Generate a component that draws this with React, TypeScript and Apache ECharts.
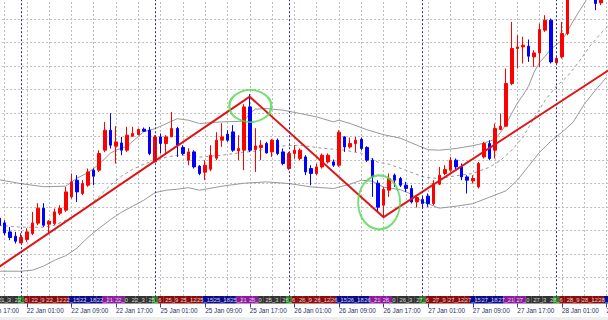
import React, { useEffect, useRef } from 'react';
import * as echarts from 'echarts';

// ---- time axis (H1 bars, server time) ----
const dayNames = ['21 Jan', '22 Jan', '25 Jan', '26 Jan', '27 Jan', '28 Jan'];
const firstHours = [17, 0, 0, 0, 0, 0];
const lastHours = [23, 23, 23, 23, 23, 10];

// ---- candles: [open, close, low, high] (points) ----
const jan21 = [
  [86, 81, 77, 89], [81, 87, 79, 90], [87, 82, 79, 89], [83, 76, 73, 86],
  [78.3, 68.3, 66, 81], [69.3, 63.7, 61, 74.3], [65, 60, 57.7, 69.3],
];
const jan22 = [
  [58.3, 63.7, 58, 68], [61.7, 69.3, 59.3, 73], [67.7, 78.3, 66, 89.3], [78, 93, 76, 98],
  [93, 76, 74.3, 98], [77, 80, 68, 81], [77.7, 89.3, 76, 92.7], [88, 93, 86, 96],
  [91, 109.3, 89.3, 114.3], [104.3, 119.3, 102.7, 127.7], [121, 109.3, 99.3, 126], [107.7, 117.7, 106, 121],
  [116, 129.3, 114.3, 132.7], [131, 125, 116, 132.7], [131, 147.7, 129.3, 151], [151, 171, 149, 179.3],
  [171, 156, 152.7, 188], [155, 159.3, 137.7, 175], [158.3, 151, 146, 164.3], [151, 166, 149.3, 174.3],
  [165, 167.7, 164.3, 174.3], [166.7, 171.7, 166, 172.7], [172, 170, 169.3, 173.7], [171, 147.7, 146, 174.3],
];
const jan25 = [
  [139.3, 164.3, 139.3, 166], [164.3, 157.7, 147.7, 167.7], [157.7, 164.3, 147.7, 166], [164.3, 172.7, 164.3, 189.3],
  [172.7, 156, 144.3, 174.3], [153.7, 147.7, 146, 156], [141, 149.3, 136, 153], [149.3, 134.3, 132.7, 151],
  [135, 127.7, 126, 136], [129, 136, 121, 141], [132, 146, 130, 156], [143, 161, 141, 169],
  [161, 164.3, 154.3, 178], [167, 161, 159.3, 171], [169.3, 151, 149.3, 176], [150.3, 152.7, 141, 166],
  [151, 194.3, 131, 197], [194.3, 151, 149.3, 207], [151.7, 155.3, 129.3, 173], [153.7, 156, 141, 161],
  [157.7, 148.3, 147.7, 159.3], [149.3, 161, 144.3, 162], [161, 147.7, 146, 162.7], [149.3, 137.7, 136, 152.7],
];
const jan26 = [
  [132.7, 147.7, 131, 149.3], [147.7, 151, 142.7, 156], [142.7, 151, 141, 152.7], [144.3, 129.3, 126, 146],
  [132.7, 127.7, 116, 136], [127.7, 134.3, 126, 137.7], [134.3, 146, 132.7, 147.7], [139.3, 146, 137.7, 147.7],
  [139.3, 136, 134.3, 141.7], [136, 169, 134.3, 171], [164.3, 154.3, 149.3, 165], [154.3, 157.7, 152.7, 163.7],
  [157.7, 161, 149.3, 164.3], [162, 152.7, 151, 163.7], [153.7, 141, 139.3, 155], [141, 124.3, 104.3, 143],
  [118, 94, 89.3, 121], [96, 111.7, 84.3, 114.3], [111, 122.7, 104.3, 127.7], [126, 121, 114.3, 127.7],
  [122.7, 116, 114.3, 124.3], [116, 112.7, 109.3, 119.3], [112.7, 99.3, 97.7, 116], [99.3, 103.7, 93.7, 106],
];
const jan27 = [
  [101.7, 97.7, 92.7, 104.3], [105, 97.7, 94.3, 107.7], [97.7, 117.7, 96, 121], [117, 126, 116, 134.3],
  [127.7, 131.7, 126, 136], [131, 141, 129.3, 144.3], [141, 134.3, 131, 142.7], [134.3, 124.3, 121, 137.7],
  [124.3, 121, 107.7, 126], [120.3, 122.7, 117.7, 126], [114.3, 137.7, 112.7, 139.3], [144.3, 157.7, 142.7, 159.3],
  [157.7, 142.7, 141, 161], [151, 172.7, 142.7, 177.7], [171.7, 175, 171, 187.7], [175, 217.7, 174.3, 232.7],
  [217.7, 252.7, 216, 279.3], [252.7, 254.3, 232.7, 266], [254.3, 256, 237.7, 264.3], [255, 245, 239.3, 261.7],
  [244.3, 248.3, 234.3, 251], [248.3, 271.7, 234.3, 277.7], [271, 281, 269.3, 286], [281, 239.3, 237.7, 282.7],
];
const jan28 = [
  [238.3, 242.7, 236, 244.3], [244.3, 267.7, 242.7, 279.3], [267.7, 306, 266, 311], [306, 326, 304, 331],
  [326, 341, 322, 346], [341, 331, 326, 346], [331, 311, 306, 336], [311, 297.7, 291, 316],
  [298.3, 306, 296, 311], [306, 312, 302, 318], [312, 316, 309, 320],
];

// ---- Bollinger bands: [bar index, value] ----
const upperBand = [
  [3, 121.5], [7, 117.5], [11, 114.5], [15, 115], [17, 123], [19, 128.5], [21, 137], [23, 148], [24, 151],
  [26, 155], [29, 169.5], [31, 172.5], [33, 177.5], [35, 182.5], [37, 181], [39, 177.7], [43, 179.3],
  [47, 180], [48, 188], [49, 192], [51, 192.7], [54, 191], [57, 187.7], [60, 184.3], [63, 179.3], [64, 181],
  [66, 177.7], [69, 171.5], [72, 166.5], [75, 163], [78, 156], [80, 151.5], [82, 151], [85, 152.7],
  [88, 155.5], [90, 158], [92, 162], [93, 169], [94, 177], [95, 188], [96, 198], [97, 206], [98, 215],
  [99, 229], [100, 239], [101, 245], [102, 252], [103, 256.5], [104, 261], [105, 270], [106, 280],
  [107, 289], [108, 298], [109, 307], [110, 315],
];
const middleBand = [
  [3, 76], [7, 74], [11, 74], [13, 76], [15, 81], [17, 87], [19, 95], [21, 105], [23, 116], [25, 125],
  [27, 132], [29, 137], [31, 141], [33, 144], [35, 146], [37, 146], [39, 144], [43, 146], [47, 149],
  [49, 150], [53, 155], [57, 156], [61, 153], [65, 151], [68, 148], [71, 139], [73, 137], [76, 131],
  [79, 124.5], [82, 122.5], [85, 125.5], [88, 127.7], [91, 134], [93, 141], [95, 151], [97, 164],
  [99, 183], [101, 201], [103, 215], [105, 225], [107, 239], [109, 255], [111, 268], [113, 279],
];
const lowerBand = [
  [3, 30], [7, 30], [9, 31], [11, 35], [13, 41], [15, 45.5], [17, 53], [19, 64], [21, 73], [23, 81.5],
  [25, 89], [27, 95], [29, 101], [31, 108.5], [33, 111], [35, 112], [37, 113.5], [39, 111], [43, 115],
  [47, 118], [51, 119.3], [55, 117.7], [59, 114.3], [63, 112.7], [66, 117], [68, 121], [70, 120], [72, 114],
  [75, 111.5], [77, 107], [79, 99.5], [82, 93], [85, 95], [88, 97.5], [91, 104], [94, 110.5], [96, 121],
  [98, 135], [100, 149], [102, 160], [104, 169], [106, 179], [108, 197], [110, 211], [112, 224],
];

// ---- hand-drawn annotations ----
const trendLine = [[2, 30.4], [48, 204.5], [72, 84], [113, 233.3]];
const markedTurns = [[48.1, 195.2], [71.2, 98.8]];

// ---- session strip (label hour = server hour + 6) ----
const sessionLabelOffset = 6;

const times: string[] = [];
const hours: number[] = [];
const dayNums: string[] = [];
dayNames.forEach((d, k) => {
  for (let h = firstHours[k]; h <= lastHours[k]; h++) {
    times.push(`${d} ${String(h).padStart(2, '0')}:00`);
    hours.push(h);
    dayNums.push(d.split(' ')[0]);
  }
});
const candles = [...jan21, ...jan22, ...jan25, ...jan26, ...jan27, ...jan28];

function sessionColor(h: number) {
  if (h === 0) return '#1f8a1f';
  if (h <= 8) return '#8a0c0c';
  if (h <= 14) return '#0c0c88';
  if (h <= 18) return '#8c1c9c';
  return '#333333';
}

const STEP = 5.575;
const LEFT = -17.83;
const RIGHT = 608 - (LEFT + (times.length - 1) * STEP);
const labelInterval = (i: number) => hours[i] % 8 === 1;
const FONT = 'Liberation Sans';

export default function App() {
  const ref = useRef<HTMLDivElement>(null);
  useEffect(() => {
    if (!ref.current) return;
    const chart = echarts.init(ref.current, undefined, { renderer: 'svg' });
    const gridLine = { color: '#bdbdbd', type: [2, 2] as any, width: 1 };
    const bandStyle = { color: '#999999', width: 1 };
    chart.setOption({
      animation: false,
      backgroundColor: '#ffffff',
      grid: [
        { left: LEFT, right: RIGHT, top: -10, height: 311.2, containLabel: false, outerBoundsMode: 'none' },
        { left: LEFT, right: RIGHT, top: 296, height: 7.5, containLabel: false, outerBoundsMode: 'none' },
      ],
      xAxis: [
        {
          type: 'category', gridIndex: 0, data: times, boundaryGap: false,
          axisLine: { show: false }, axisTick: { show: false }, axisLabel: { show: false },
          splitLine: { show: true, interval: (i: number) => i % 4 === 0, lineStyle: gridLine },
        },
        {
          type: 'category', gridIndex: 1, data: times, boundaryGap: false,
          axisLine: { show: false },
          axisTick: { show: true, interval: labelInterval, length: 4, lineStyle: { color: '#3b3b8f' } },
          axisLabel: {
            show: true, interval: labelInterval, align: 'left', fontSize: 6.4,
            fontFamily: FONT, color: '#26306a', margin: 4,
          },
          splitLine: { show: false },
        },
        { type: 'value', gridIndex: 0, min: 0, max: times.length - 1, show: false },
      ],
      yAxis: [
        {
          type: 'value', gridIndex: 0, min: 0, max: 311.2, interval: 23.5,
          axisLine: { show: false }, axisTick: { show: false }, axisLabel: { show: false },
          splitLine: { show: true, lineStyle: gridLine },
        },
        { type: 'value', gridIndex: 1, min: 0, max: 1, show: false },
      ],
      graphic: [
        { type: 'rect', left: 0, top: 317, shape: { width: 608, height: 3 }, style: { fill: '#eeeeee' }, silent: true },
      ],
      series: [
        {
          type: 'bar', xAxisIndex: 1, yAxisIndex: 1, barWidth: 5.7, z: 1, silent: true,
          data: times.map((t, i) => ({ value: 1, itemStyle: { color: sessionColor(hours[i]) } })),
        },
        {
          type: 'scatter', xAxisIndex: 1, yAxisIndex: 1, symbolSize: 0.1, z: 6, silent: true,
          data: times.map((t, i) => i).filter((i) => hours[i] % 3 === 0).map((i) => [times[i], 0.5, i]),
          label: {
            show: true, position: 'inside', color: '#ffffff', fontSize: 5.8, fontFamily: FONT,
            formatter: (p: any) => `${dayNums[p.value[2]]}_${(hours[p.value[2]] + sessionLabelOffset) % 24}`,
          },
        },
        { type: 'line', xAxisIndex: 2, yAxisIndex: 0, data: upperBand, symbol: 'none', lineStyle: bandStyle, z: 2, silent: true },
        { type: 'line', xAxisIndex: 2, yAxisIndex: 0, data: middleBand, symbol: 'none', lineStyle: { ...bandStyle, type: [3, 3] }, z: 2, silent: true },
        { type: 'line', xAxisIndex: 2, yAxisIndex: 0, data: lowerBand, symbol: 'none', lineStyle: bandStyle, z: 2, silent: true },
        {
          type: 'candlestick', xAxisIndex: 0, yAxisIndex: 0, data: candles, barWidth: 3, z: 3,
          itemStyle: { color: '#ff0000', color0: '#0000ff', borderColor: '#ff0000', borderColor0: '#0000ff', borderWidth: 1 },
          markLine: {
            silent: true, symbol: ['none', 'none'], label: { show: false },
            lineStyle: { color: '#2c2c96', type: [2, 2], width: 1 },
            data: times.filter((t, i) => hours[i] === 0).map((t) => ({ xAxis: t })),
          },
        },
        {
          type: 'line', xAxisIndex: 2, yAxisIndex: 0, data: trendLine, symbol: 'none', z: 4, silent: true,
          lineStyle: { color: '#e01414', width: 2 },
        },
        {
          type: 'scatter', xAxisIndex: 2, yAxisIndex: 0, data: markedTurns, z: 5, silent: true,
          symbol: 'circle',
          symbolSize: (v: any, p: any) => (p.dataIndex === 0 ? [42, 32] : [42, 54]),
          itemStyle: { color: 'rgba(0,0,0,0)', borderColor: '#4cd84c', borderWidth: 2 },
        },
      ],
    });
    return () => chart.dispose();
  }, []);
  return <div ref={ref} style={{ position: 'absolute', left: 0, top: 0, width: 608, height: 320 }} />;
}
